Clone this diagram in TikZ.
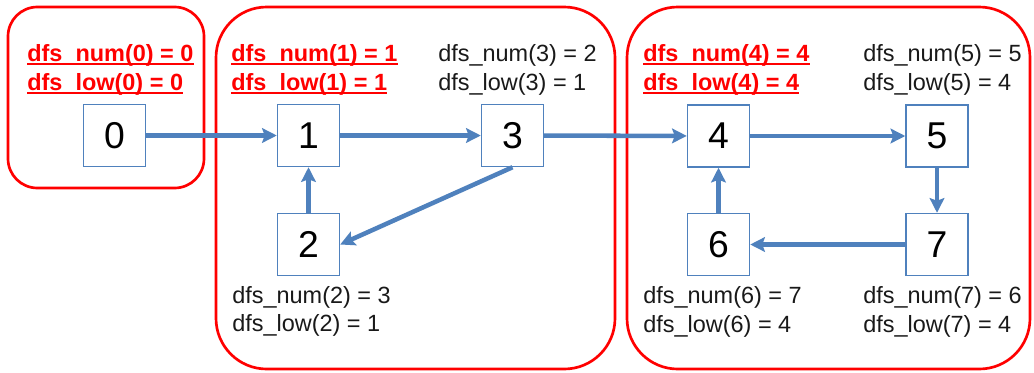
\documentclass[tikz,border=0pt]{standalone}
\usepackage{fontspec}
\setmainfont{Liberation Sans}
\usetikzlibrary{arrows.meta}
\definecolor{vblue}{RGB}{79,129,189}
\definecolor{vred}{RGB}{255,0,0}
\tikzset{
  vbox/.style={draw=vblue, line width=1.1pt, fill=white, minimum size=46.5pt, inner sep=0pt, font=\fontsize{28}{30}\selectfont},
  lab/.style={anchor=base west, inner sep=0pt, font=\fontsize{17.6}{20}\selectfont, text=black!90},
  rlab/.style={anchor=base west, inner sep=0pt, font=\fontsize{17.6}{20}\selectfont\bfseries, text=vred},
  arr/.style={draw=vblue, line width=3.4pt, -{Stealth[length=11pt,width=11pt,inset=2pt]}},
  redbox/.style={draw=vred, line width=2pt},
  uline/.style={draw=vred, line width=1.3pt},
}
\newcommand{\ulnode}[1]{\draw[uline] ([yshift=-2.3pt]#1.base west) -- ([yshift=-2.3pt]#1.base east);}
\begin{document}
\begin{tikzpicture}[x=0.75pt,y=-0.75pt]
\useasboundingbox (0,0) rectangle (1034,372);
% group boxes
\draw[redbox, rounded corners=22pt] (8,7) rectangle (204,188);
\draw[redbox, rounded corners=38pt] (216,7) rectangle (615,369);
\draw[redbox, rounded corners=38pt] (627,7) rectangle (1030,369);
% vertices
\node[vbox] (n0) at (114.5,135.5) {0};
\node[vbox] (n1) at (308.5,135.5) {1};
\node[vbox] (n3) at (512.5,135.5) {3};
\node[vbox] (n2) at (308.5,244.5) {2};
\node[vbox] (n4) at (718.5,136) {4};
\node[vbox] (n5) at (937,136) {5};
\node[vbox] (n6) at (718.5,244.5) {6};
\node[vbox] (n7) at (937,244.5) {7};
% edges
\draw[arr] (n0) -- (n1);
\draw[arr] (n1) -- (n3);
\draw[arr] (n3) -- (n4);
\draw[arr] (n4) -- (n5);
\draw[arr] (n5) -- (n7);
\draw[arr] (n7) -- (n6);
\draw[arr] (n6) -- (n4);
\draw[arr] (n2) -- (n1);
\draw[arr] (n3.south) -- (n2.east);
% labels
\node[rlab] (num0) at (27,61) {dfs\_num(0) = 0};
\node[rlab] (low0) at (27,90) {dfs\_low(0) = 0};
\node[rlab] (num1) at (231,61) {dfs\_num(1) = 1};
\node[rlab] (low1) at (231,90) {dfs\_low(1) = 1};
\node[lab] (num3) at (438,61) {dfs\_num(3) = 2};
\node[lab] (low3) at (438,90) {dfs\_low(3) = 1};
\node[rlab] (num4) at (643,61) {dfs\_num(4) = 4};
\node[rlab] (low4) at (643,90) {dfs\_low(4) = 4};
\node[lab] (num5) at (863,61) {dfs\_num(5) = 5};
\node[lab] (low5) at (863,90) {dfs\_low(5) = 4};
\node[lab] (num2) at (232,303) {dfs\_num(2) = 3};
\node[lab] (low2) at (232,331) {dfs\_low(2) = 1};
\node[lab] (num6) at (643,303) {dfs\_num(6) = 7};
\node[lab] (low6) at (643,332) {dfs\_low(6) = 4};
\node[lab] (num7) at (863,303) {dfs\_num(7) = 6};
\node[lab] (low7) at (863,332) {dfs\_low(7) = 4};
% underlines of the red labels
\ulnode{num0}\ulnode{low0}\ulnode{num1}\ulnode{low1}\ulnode{num4}\ulnode{low4}
\end{tikzpicture}
\end{document}
